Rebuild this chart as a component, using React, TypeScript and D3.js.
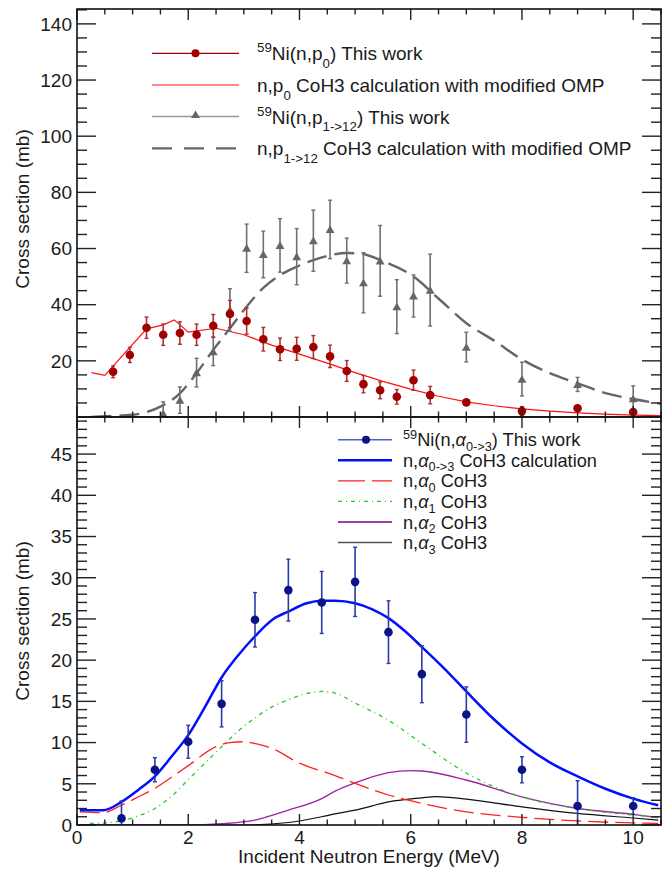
import React from "react";
import * as d3 from "d3";

// ---------- Data ----------
// Top panel: 59Ni(n,p0) measured
const p0E = [0.65, 0.95, 1.25, 1.55, 1.85, 2.15, 2.45, 2.75, 3.05, 3.35, 3.65, 3.95, 4.25, 4.55, 4.85, 5.15, 5.45, 5.75, 6.05, 6.35, 7, 8, 9, 10];
const p0Y = [16.1, 22.1, 31.8, 29.3, 29.9, 29.3, 32.5, 36.7, 34.2, 27.7, 24.1, 24.3, 24.9, 21.6, 16.4, 11.7, 9.5, 7.2, 13.1, 7.8, 5.2, 2.1, 3.1, 1.8];
const p0Err = [2.1, 2.7, 3.8, 3.8, 4.0, 3.8, 4.0, 4.8, 4.7, 4.2, 4.0, 4.1, 4.1, 4.0, 3.7, 3.1, 3.0, 2.6, 3.6, 3.1, 0.8, 1.6, 0.8, 0.8];

// Top panel: 59Ni(n,p1->12) measured
const p1E = [1.55, 1.85, 2.15, 2.45, 2.75, 3.05, 3.35, 3.65, 3.95, 4.25, 4.55, 4.85, 5.15, 5.45, 5.75, 6.05, 6.35, 7, 8, 9, 10];
const p1Y = [1.2, 6.0, 15.8, 23.3, 38.1, 60.1, 57.9, 61.1, 57.1, 62.8, 66.8, 55.7, 47.8, 55.6, 39.3, 43.1, 45.2, 24.9, 13.5, 11.6, 6.5];
const p1Err = [4.2, 4.7, 5.1, 5.0, 7.6, 8.6, 8.3, 9.5, 10.0, 10.9, 10.4, 8.0, 10.7, 12.6, 9.6, 7.5, 12.8, 5.3, 6.0, 2.5, 4.6];

// Top panel: CoH3 calculations
const p0CalcE = [0.26, 0.5, 1.25, 1.55, 1.75, 2.0, 2.5, 3.0, 3.5, 4.0, 4.5, 5.0, 5.5, 6.0, 6.5, 7.0, 7.5, 8.0, 8.5, 9.0, 9.5, 10.0, 10.5];
const p0CalcY = [15.8, 14.8, 31.4, 32.8, 34.6, 30.2, 31.6, 29.3, 25.6, 22.4, 19.2, 15.8, 12.7, 9.9, 7.4, 5.4, 4.0, 2.9, 2.1, 1.5, 1.0, 0.7, 0.5];
const p1CalcE = [0.26, 0.5, 1.0, 1.5, 1.85, 2.15, 2.45, 2.75, 3.05, 3.35, 3.65, 3.95, 4.25, 4.55, 4.85, 5.1, 5.45, 6.05, 6.5, 7.0, 7.5, 8.0, 8.5, 9.0, 9.5, 10.0, 10.5];
const p1CalcY = [0.0, 0.3, 0.8, 3.7, 8.4, 15.6, 23.9, 31.6, 39.3, 46.0, 50.5, 53.5, 55.9, 57.6, 58.4, 58.2, 55.9, 50.0, 42.2, 33.4, 27.2, 20.5, 15.6, 12.0, 8.5, 6.4, 4.7];

// Bottom panel: 59Ni(n,alpha0->3) measured
const aE = [0.8, 1.4, 2.0, 2.6, 3.2, 3.8, 4.4, 5.0, 5.6, 6.2, 7.0, 8.0, 9.0, 10.0];
const aY = [0.8, 6.7, 10.1, 14.7, 24.9, 28.5, 27.0, 29.5, 23.4, 18.3, 13.4, 6.7, 2.3, 2.3];
const aErr = [2.1, 1.46, 2.0, 2.8, 3.3, 3.75, 3.76, 4.2, 3.8, 3.46, 3.36, 1.58, 3.07, 1.0];

// Bottom panel: CoH3 calculations
const aTotE = [0.05, 0.47, 0.8, 1.1, 1.4, 1.7, 2.0, 2.3, 2.6, 2.9, 3.2, 3.53, 3.8, 4.13, 4.4, 4.64, 5.0, 5.3, 5.6, 5.9, 6.2, 6.6, 7.0, 7.5, 8.0, 8.5, 9.0, 9.5, 10.0, 10.45];
const aTotY = [1.8, 1.8, 2.8, 4.25, 5.9, 8.3, 10.9, 14.3, 17.9, 20.6, 22.9, 25.0, 25.9, 26.9, 27.2, 27.2, 26.9, 26.2, 25.1, 23.5, 21.6, 19.0, 16.2, 12.8, 9.9, 7.6, 5.9, 4.4, 3.2, 2.4];
const a0E = [0.05, 0.47, 0.8, 1.1, 1.4, 1.7, 2.0, 2.5, 2.75, 3.0, 3.25, 3.5, 4.0, 4.64, 5.0, 5.6, 6.2, 7.0, 8.0, 9.0, 10.0, 10.45];
const a0Y = [1.6, 1.5, 2.4, 3.4, 4.45, 5.8, 7.2, 9.5, 10.0, 10.1, 9.8, 9.3, 7.5, 6.0, 5.06, 3.64, 2.63, 1.6, 0.93, 0.49, 0.25, 0.2];
const a1E = [0.23, 0.5, 0.8, 1.1, 1.4, 1.7, 2.0, 2.3, 2.6, 2.9, 3.2, 3.5, 3.8, 4.1, 4.4, 4.64, 5.0, 5.6, 6.2, 7.0, 8.0, 9.0, 10.0, 10.45];
const a1Y = [0.2, 0.25, 0.5, 1.1, 2.0, 3.5, 5.5, 7.5, 9.5, 11.4, 13.0, 14.3, 15.2, 15.9, 16.2, 16.0, 14.8, 12.7, 9.9, 6.3, 3.4, 2.0, 1.2, 0.93];
const a2E = [0.05, 2.0, 2.6, 3.2, 3.8, 4.4, 4.64, 5.0, 5.6, 6.0, 6.2, 7.0, 8.0, 9.0, 10.0, 10.45];
const a2Y = [0, 0, 0.15, 0.6, 1.8, 3.2, 4.1, 5.1, 6.35, 6.6, 6.55, 5.46, 3.4, 2.0, 1.3, 0.9];
const a3E = [0.05, 3.0, 3.8, 4.4, 4.64, 5.0, 5.6, 6.2, 6.45, 7.0, 8.0, 9.0, 10.0, 10.45];
const a3Y = [0, 0, 0.3, 1.0, 1.35, 1.8, 2.8, 3.3, 3.45, 3.15, 2.2, 1.4, 0.85, 0.6];

const xTickLabels = [0, 2, 4, 6, 8, 10];
const yTopLabels = [20, 40, 60, 80, 100, 120, 140];
const yBotLabels = [0, 5, 10, 15, 20, 25, 30, 35, 40, 45];

// ---------- Layout ----------
const W = 670, H = 869;
const L = 77, R = 661, T = 9, M = 417, B = 825;
const FONT = "'Liberation Sans', Arial, Helvetica, sans-serif";
const TXT = "#1a1a1a";

const x = d3.scaleLinear().domain([0, 10.5]).range([L, R]);
const yTop = d3.scaleLinear().domain([0, 145.3]).range([M, T]);
const yBot = d3.scaleLinear().domain([0, 49.5]).range([B, M]);

type Seg = { t: string; m?: "sub" | "sup"; i?: boolean };

function Rich({ x0, y0, segs, size, subShift = 0.42 }: { x0: number; y0: number; segs: Seg[]; size: number; subShift?: number }) {
  const small = size * 0.7;
  let cur = 0;
  const out: any[] = [];
  segs.forEach((s, k) => {
    const target = s.m === "sub" ? size * subShift : s.m === "sup" ? -size * 0.42 : 0;
    const dy = target - cur;
    cur = target;
    out.push(
      <tspan key={k} dy={dy} fontSize={s.m ? small : size} fontStyle={s.i ? "italic" : undefined}>
        {s.t}
      </tspan>
    );
  });
  return (
    <text x={x0} y={y0} fontFamily={FONT} fill={TXT} fontSize={size}>
      {out}
    </text>
  );
}

function Frame({ y, yMin, yMax, majorY, minorY }: any) {
  const els: any[] = [];
  const top = y.range()[1], bot = y.range()[0];
  d3.range(0, 10.51, 0.5).forEach((v, i) => {
    const major = Math.abs(v % 2) < 1e-6;
    const len = major ? 11 : 5.5;
    const px = x(v);
    els.push(<line key={"xb" + i} x1={px} x2={px} y1={bot} y2={bot - len} />);
    els.push(<line key={"xt" + i} x1={px} x2={px} y1={top} y2={top + len} />);
  });
  d3.range(yMin, yMax + 1e-6, minorY).forEach((v, i) => {
    const major = Math.abs(v % majorY) < 1e-6;
    const len = major ? 19 : 10;
    const py = y(v);
    els.push(<line key={"yl" + i} x1={L} x2={L + len} y1={py} y2={py} />);
    els.push(<line key={"yr" + i} x1={R} x2={R - len} y1={py} y2={py} />);
  });
  return (
    <g stroke="#222" strokeWidth={1.4}>
      {els}
      <rect x={L} y={top} width={R - L} height={bot - top} fill="none" stroke="#111" strokeWidth={1.6} />
    </g>
  );
}

function ErrPoints({ E, Y, Err, y, color, errColor, shape }: any) {
  const tri = d3.symbol(d3.symbolTriangle, 34)();
  return (
    <g>
      {E.map((e: number, i: number) => {
        const px = x(e);
        const lo = Math.max(0, Y[i] - Err[i]);
        const hi = Y[i] + Err[i];
        return (
          <g key={i}>
            <line x1={px} x2={px} y1={y(lo)} y2={y(hi)} stroke={errColor} strokeWidth={1.6} />
            <line x1={px - 2} x2={px + 2} y1={y(hi)} y2={y(hi)} stroke={errColor} strokeWidth={1.4} />
            {Y[i] - Err[i] > 0 && (
              <line x1={px - 2} x2={px + 2} y1={y(lo)} y2={y(lo)} stroke={errColor} strokeWidth={1.4} />
            )}
            {shape === "tri" ? (
              <path d={tri as string} transform={`translate(${px},${y(Y[i]) + 1})`} fill={color} />
            ) : (
              <circle cx={px} cy={y(Y[i])} r={4.3} fill={color} />
            )}
          </g>
        );
      })}
    </g>
  );
}

function Curve({ E, Y, y, color, width, dash, linear }: any) {
  const gen = d3
    .line<number>()
    .x((_, i) => x(E[i]))
    .y((v) => y(v))
    .curve(linear ? d3.curveLinear : d3.curveMonotoneX);
  return <path d={gen(Y) as string} fill="none" stroke={color} strokeWidth={width} strokeDasharray={dash} />;
}

export default function App() {
  const tri = d3.symbol(d3.symbolTriangle, 34)();
  const topLeg = [53.3, 85, 116.5, 148.3];
  const botLeg = [439.7, 460.2, 480.8, 501.4, 522, 542.5];
  const lgX1 = 152, lgX2 = 239, lgTx = 257;
  const bX1 = 338, bX2 = 392, bTx = 403;
  const LS = 19;
  const BS = 18.2;
  return (
    <svg width={W} height={H} style={{ position: "absolute", left: 0, top: 0, background: "#fff" }}>
      <defs>
        <clipPath id="clipTop">
          <rect x={L} y={T} width={R - L} height={M - T} />
        </clipPath>
        <clipPath id="clipBot">
          <rect x={L} y={M} width={R - L} height={B - M} />
        </clipPath>
      </defs>
      <rect x={0} y={0} width={W} height={H} fill="#fff" />

      {/* ---- Top panel ---- */}
      <g clipPath="url(#clipTop)">
        <Curve E={p0CalcE} Y={p0CalcY} y={yTop} color="#ff1010" width={1.2} linear />
        <Curve E={p1CalcE} Y={p1CalcY} y={yTop} color="#666" width={2.4} dash="20,8" />
        <ErrPoints E={p1E} Y={p1Y} Err={p1Err} y={yTop} color="#666" errColor="#707070" shape="tri" />
        <ErrPoints E={p0E} Y={p0Y} Err={p0Err} y={yTop} color="#a00000" errColor="#b03030" shape="circle" />
      </g>

      {/* ---- Bottom panel ---- */}
      <g clipPath="url(#clipBot)">
        <Curve E={a3E} Y={a3Y} y={yBot} color="#111" width={1.2} />
        <Curve E={a2E} Y={a2Y} y={yBot} color="#a020a8" width={1.3} />
        <Curve E={a1E} Y={a1Y} y={yBot} color="#22cc22" width={1.3} dash="4,4,1,4" />
        <Curve E={a0E} Y={a0Y} y={yBot} color="#ff2020" width={1.3} dash="20,7" />
        <Curve E={aTotE} Y={aTotY} y={yBot} color="#0010ff" width={2.5} />
        <ErrPoints E={aE} Y={aY} Err={aErr} y={yBot} color="#0a1488" errColor="#2a3aa8" shape="circle" />
      </g>

      <Frame y={yTop} yMin={5} yMax={145} majorY={20} minorY={5} />
      <Frame y={yBot} yMin={0} yMax={49} majorY={5} minorY={1} />

      {/* tick labels */}
      <g fontFamily={FONT} fontSize={19} fill={TXT}>
        {yTopLabels.map((v) => (
          <text key={"t" + v} x={72} y={yTop(v) + 6.8} textAnchor="end">
            {v}
          </text>
        ))}
        {yBotLabels.map((v) => (
          <text key={"b" + v} x={72} y={yBot(v) + 6.8} textAnchor="end">
            {v}
          </text>
        ))}
        {xTickLabels.map((v) => (
          <text key={"x" + v} x={x(v)} y={844} textAnchor="middle">
            {v}
          </text>
        ))}
        <text x={369} y={863} textAnchor="middle">
          Incident Neutron Energy (MeV)
        </text>
        <text transform={`translate(29,${(T + M) / 2 - 4}) rotate(-90)`} textAnchor="middle">
          Cross section (mb)
        </text>
        <text transform={`translate(29,${(M + B) / 2}) rotate(-90)`} textAnchor="middle">
          Cross section (mb)
        </text>
      </g>

      {/* ---- Top legend ---- */}
      <g>
        <line x1={lgX1} x2={lgX2} y1={topLeg[0]} y2={topLeg[0]} stroke="#a00000" strokeWidth={1.3} />
        <circle cx={(lgX1 + lgX2) / 2} cy={topLeg[0]} r={4} fill="#a00000" />
        <line x1={lgX1} x2={lgX2} y1={topLeg[1]} y2={topLeg[1]} stroke="#ff1010" strokeWidth={1.2} />
        <line x1={lgX1} x2={lgX2} y1={topLeg[2]} y2={topLeg[2]} stroke="#999" strokeWidth={1.6} />
        <path d={tri as string} transform={`translate(${(lgX1 + lgX2) / 2},${topLeg[2] - 1})`} fill="#666" />
        <line x1={lgX1} x2={lgX2} y1={topLeg[3]} y2={topLeg[3]} stroke="#666" strokeWidth={2.2} strokeDasharray="20,12" />
        <Rich x0={lgTx} y0={topLeg[0] + 7} size={LS} segs={[{ t: "59", m: "sup" }, { t: "Ni(n,p" }, { t: "0", m: "sub" }, { t: ") This work" }]} />
        <Rich x0={lgTx} y0={topLeg[1] + 7} size={LS} segs={[{ t: "n,p" }, { t: "0", m: "sub" }, { t: " CoH3 calculation with modified OMP" }]} />
        <Rich x0={lgTx} y0={topLeg[2] + 7} size={LS} segs={[{ t: "59", m: "sup" }, { t: "Ni(n,p" }, { t: "1->12", m: "sub" }, { t: ") This work" }]} />
        <Rich x0={lgTx} y0={topLeg[3] + 7} size={LS} segs={[{ t: "n,p" }, { t: "1->12", m: "sub" }, { t: " CoH3 calculation with modified OMP" }]} />
      </g>

      {/* ---- Bottom legend ---- */}
      <g>
        <line x1={bX1} x2={bX2} y1={botLeg[0]} y2={botLeg[0]} stroke="#5060c0" strokeWidth={1.4} />
        <circle cx={366} cy={botLeg[0]} r={4} fill="#0a1488" />
        <line x1={bX1} x2={bX2} y1={botLeg[1]} y2={botLeg[1]} stroke="#0010ff" strokeWidth={2.5} />
        <line x1={bX1} x2={bX2} y1={botLeg[2]} y2={botLeg[2]} stroke="#ff2020" strokeWidth={1.3} strokeDasharray="27,7" />
        <line x1={bX1} x2={bX2} y1={botLeg[3]} y2={botLeg[3]} stroke="#22cc22" strokeWidth={1.3} strokeDasharray="4,4,1,4" />
        <line x1={bX1} x2={bX2} y1={botLeg[4]} y2={botLeg[4]} stroke="#800080" strokeWidth={1.3} />
        <line x1={bX1} x2={bX2} y1={botLeg[5]} y2={botLeg[5]} stroke="#555" strokeWidth={1.4} />
        <Rich x0={bTx} y0={botLeg[0] + 6.5} size={BS} subShift={0.26} segs={[{ t: "59", m: "sup" }, { t: "Ni(n," }, { t: "α", i: true }, { t: "0->3", m: "sub" }, { t: ") This work" }]} />
        <Rich x0={bTx} y0={botLeg[1] + 6.5} size={BS} subShift={0.26} segs={[{ t: "n," }, { t: "α", i: true }, { t: "0->3", m: "sub" }, { t: " CoH3 calculation" }]} />
        <Rich x0={bTx} y0={botLeg[2] + 6.5} size={BS} subShift={0.26} segs={[{ t: "n," }, { t: "α", i: true }, { t: "0", m: "sub" }, { t: " CoH3" }]} />
        <Rich x0={bTx} y0={botLeg[3] + 6.5} size={BS} subShift={0.26} segs={[{ t: "n," }, { t: "α", i: true }, { t: "1", m: "sub" }, { t: " CoH3" }]} />
        <Rich x0={bTx} y0={botLeg[4] + 6.5} size={BS} subShift={0.26} segs={[{ t: "n," }, { t: "α", i: true }, { t: "2", m: "sub" }, { t: " CoH3" }]} />
        <Rich x0={bTx} y0={botLeg[5] + 6.5} size={BS} subShift={0.26} segs={[{ t: "n," }, { t: "α", i: true }, { t: "3", m: "sub" }, { t: " CoH3" }]} />
      </g>
    </svg>
  );
}
